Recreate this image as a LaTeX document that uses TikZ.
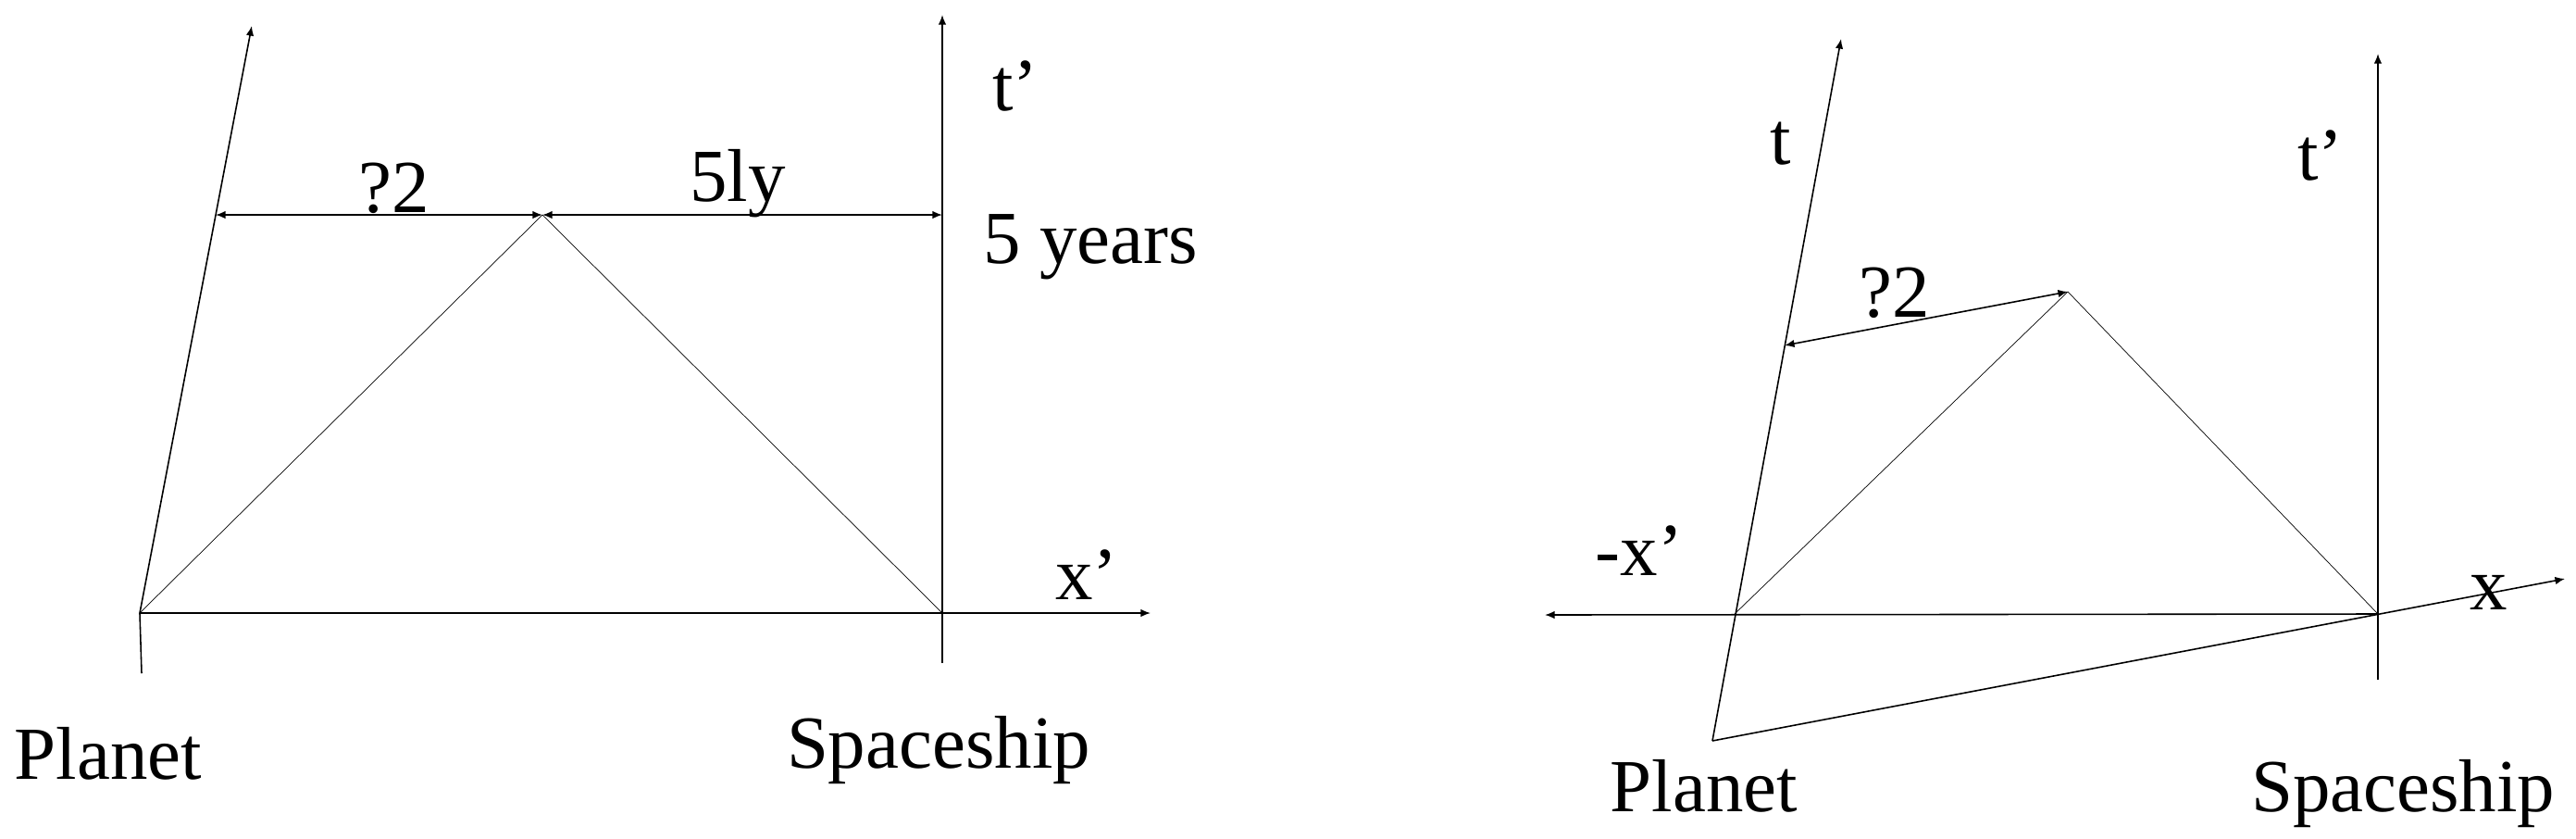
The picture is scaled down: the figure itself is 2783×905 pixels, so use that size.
\documentclass[tikz,border=0pt]{standalone}
\usepackage{fontspec}
\setmainfont{Liberation Serif}
\usetikzlibrary{arrows.meta}

\begin{document}
\begin{tikzpicture}[x=0.01cm,y=-0.01cm,>={Latex[length=3pt,width=2.4pt]},
  axis/.style={line width=0.45pt},
  ray/.style={line width=0.2pt},
  lbl/.style={font=\fontsize{23}{27}\selectfont,inner sep=0pt,anchor=base}]
  \useasboundingbox (0,0) rectangle (2783,905);

  % planet frame
  \coordinate (po) at (151,662);
  \coordinate (pt) at (272,28);
  \coordinate (pb) at (153,727);
  \coordinate (so) at (1018,662);
  \coordinate (st) at (1018,16);
  \coordinate (sb) at (1018,716);
  \coordinate (xe) at (1243,662);
  \coordinate (ap) at (586,232);
  \coordinate (ta) at (233,232);
  \coordinate (tb) at (1018,232);

  \path[axis]
    (pb) edge (po)
    (po) edge[->] (pt)
    (po) edge[->] (xe)
    (sb) edge[->] (st);
  \draw[ray] (po) -- (ap) -- (so);
  \path[axis,<->] (ta) edge (ap) (ap) edge (tb);

  \node[lbl] (tp) at (1097,119) {t’};
  \node[lbl] (q1) at (426,229) {?2};
  \node[lbl] (ly) at (797,217) {5ly};
  \node[lbl] (yr) at (1178,284) {5 years};
  \node[lbl] (xp) at (1174,647) {x’};
  \node[lbl] (pl) at (117,841) {Planet};
  \node[lbl] (sp) at (1014,829) {Spaceship};

  % spaceship frame
  \coordinate (Po) at (1874,663);
  \coordinate (Pb) at (1850,800);
  \coordinate (Pt) at (1989,42);
  \coordinate (So) at (2569,663);
  \coordinate (St) at (2569,58);
  \coordinate (Sb) at (2569,734);
  \coordinate (Xr) at (2771,625);
  \coordinate (Xl) at (1669,664);
  \coordinate (Ap) at (2234,315);
  \coordinate (Pq) at (1928,373);

  \path[axis]
    (Pb) edge[->] (Pt)
    (Pb) edge[->] (Xr)
    (So) edge[->] (Xl)
    (Sb) edge[->] (St);
  \draw[ray] (Po) -- (Ap) -- (So);
  \path[axis,<->] (Pq) edge (Ap);

  \node[lbl] (T) at (1924,177) {t};
  \node[lbl] (Tp) at (2507,194) {t’};
  \node[lbl] (Q2) at (2047,342) {?2};
  \node[lbl] (Xm) at (1771,621) {-x’};
  \node[lbl] (X) at (2689,658) {x};
  \node[lbl] (Pl) at (1841,876) {Planet};
  \node[lbl] (Sp) at (2596,876) {Spaceship};
\end{tikzpicture}
\end{document}
